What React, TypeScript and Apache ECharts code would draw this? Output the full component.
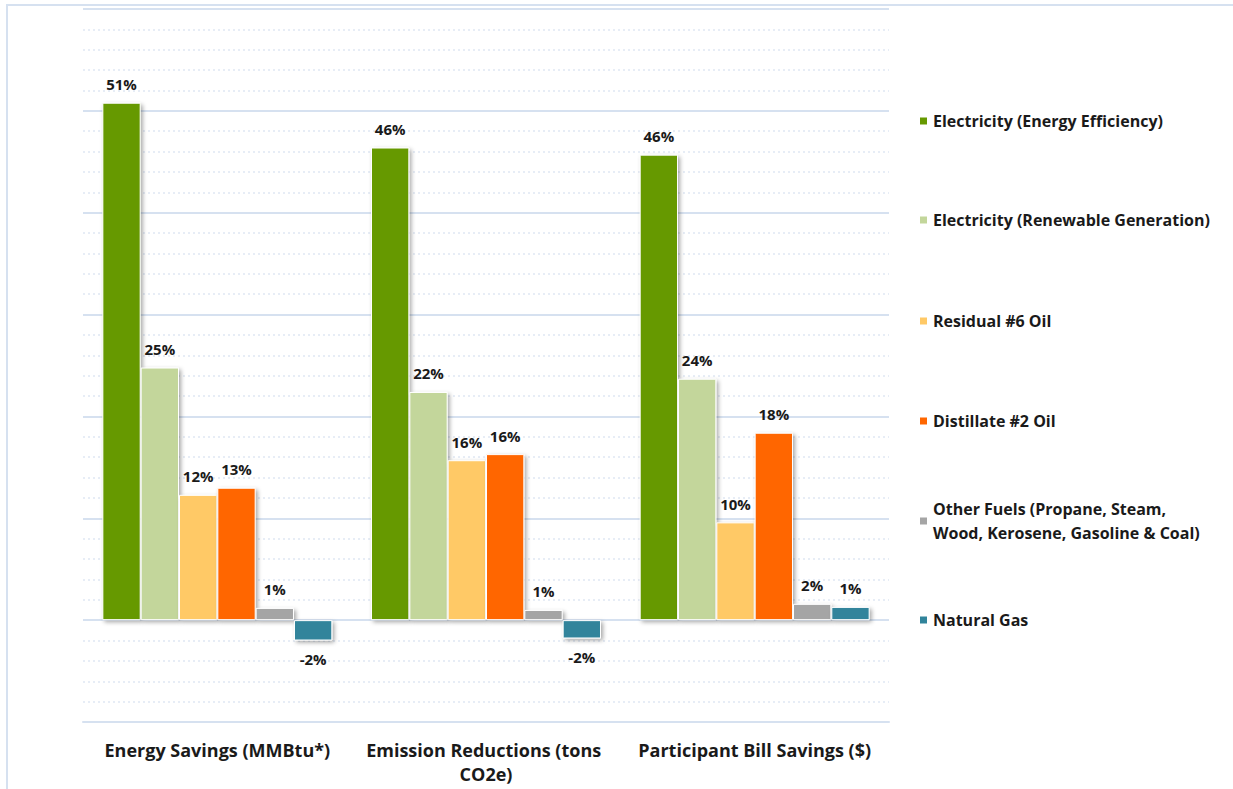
import React, { useEffect, useRef } from "react";
import * as echarts from "echarts";

const categories = [
  "Energy Savings (MMBtu*)",
  "Emission Reductions (tons CO2e)",
  "Participant Bill Savings ($)",
];
const seriesNames = [
  "Electricity (Energy Efficiency)",
  "Electricity (Renewable Generation)",
  "Residual #6 Oil",
  "Distillate #2 Oil",
  "Other Fuels (Propane, Steam, Wood, Kerosene, Gasoline & Coal)",
  "Natural Gas",
];
const electricityEE = [50.8, 46.4, 45.7];
const electricityRG = [24.8, 22.4, 23.7];
const residualOil = [12.3, 15.7, 9.6];
const distillateOil = [13.0, 16.3, 18.4];
const otherFuels = [1.2, 1.0, 1.6];
const naturalGas = [-2.0, -1.8, 1.3];
const seriesColors = ["#669900", "#c3d69b", "#ffc966", "#ff6600", "#a5a5a5", "#31849b"];
const yMin = -10;
const yMax = 60;
const yInterval = 10;

const FONT = "Open Sans";

export default function App() {
  const ref = useRef<HTMLDivElement>(null);
  useEffect(() => {
    document.body.style.margin = "0";
    if (!ref.current) return;
    const chart = echarts.init(ref.current, null, { renderer: "svg" });
    const allValues = [electricityEE, electricityRG, residualOil, distillateOil, otherFuels, naturalGas];
    const series = allValues.map((vals, i) => ({
      name: seriesNames[i],
      type: "bar",
      barGap: "0%",
      barCategoryGap: "14.4%",
      itemStyle: {
        color: seriesColors[i],
        borderColor: "#ffffff",
        borderWidth: 1,
        shadowBlur: 4,
        shadowColor: "rgba(0,0,0,0.35)",
        shadowOffsetX: 2,
        shadowOffsetY: 2,
      },
      data: vals.map((v) => ({
        value: v,
        label: { position: v < 0 ? "bottom" : "top" },
      })),
      label: {
        show: true,
        distance: 11,
        formatter: (p: any) => Math.round(p.value) + "%",
        fontFamily: FONT,
        fontWeight: "bold",
        fontSize: 15,
        color: "#1a1a1a",
      },
    }));

    const legendCenters = [121, 220, 321, 421, 521, 620];
    const legends = seriesNames.map((name, i) => {
      const multi = i === 4;
      return {
        data: [name],
        orient: "vertical",
        left: 918,
        top: multi ? legendCenters[i] - 36 : legendCenters[i] - 11,
        padding: 0,
        itemWidth: 9,
        itemHeight: 9,
        itemGap: 0,
        icon: "rect",
        formatter: multi
          ? () => "Other Fuels (Propane, Steam,\nWood, Kerosene, Gasoline & Coal)"
          : undefined,
        textStyle: {
          fontFamily: FONT,
          fontWeight: "bold",
          fontSize: 16,
          color: "#1a1a1a",
          lineHeight: multi ? 24 : 22,
          padding: multi ? [24, 0, 0, 0] : 0,
        },
        selectedMode: false,
      };
    });

    chart.setOption({
      animation: false,
      color: seriesColors,
      graphic: [
        {
          type: "rect",
          shape: { x: 7, y: 5, width: 1400, height: 1000 },
          style: { fill: "none", stroke: "#d6e1f0", lineWidth: 2 },
          silent: true,
        },
      ],
      grid: { left: 83, right: 344, top: 9, bottom: 67 },
      legend: legends,
      xAxis: {
        type: "category",
        data: categories,
        axisLine: { onZero: false, lineStyle: { color: "#d6e1f0", width: 2 } },
        axisTick: { show: false },
        axisLabel: {
          interval: 0,
          margin: 16,
          width: 262,
          overflow: "break",
          lineHeight: 24,
          fontFamily: FONT,
          fontWeight: "bold",
          fontSize: 18,
          color: "#1a1a1a",
        },
      },
      yAxis: {
        type: "value",
        min: yMin,
        max: yMax,
        interval: yInterval,
        axisLabel: { show: false },
        axisLine: { show: false },
        axisTick: { show: false },
        splitLine: { show: true, lineStyle: { color: "#d6e1f0", width: 2 } },
        minorTick: { show: false, splitNumber: 5 },
        minorSplitLine: {
          show: true,
          lineStyle: { color: "#dfe8f4", width: 1.5, type: [2, 3] },
        },
      },
      series,
    });
    return () => chart.dispose();
  }, []);
  return <div ref={ref} style={{ width: 1233, height: 789 }} />;
}
